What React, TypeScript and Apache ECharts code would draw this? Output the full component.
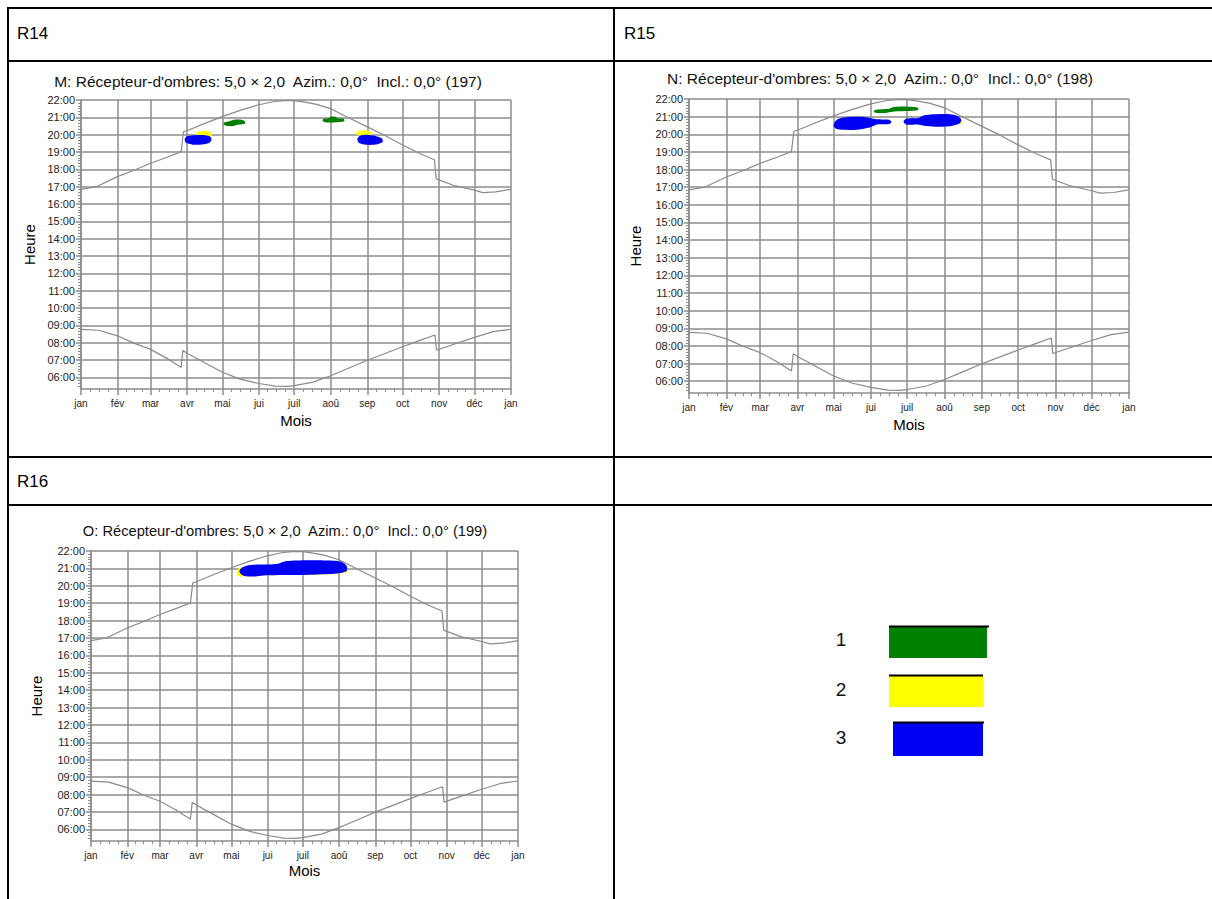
import React, { useEffect, useRef } from "react";
import * as echarts from "echarts";

// ---------- data ----------
const monthLabels = ["jan", "fév", "mar", "avr", "mai", "jui", "juil", "aoû", "sep", "oct", "nov", "déc", "jan"];
const monthStartDays = [0, 31, 59, 90, 120, 151, 181, 212, 243, 273, 304, 334, 365];
const hourTickValues = [6, 7, 8, 9, 10, 11, 12, 13, 14, 15, 16, 17, 18, 19, 20, 21, 22];

const chartTitles = [
  "M: Récepteur-d'ombres: 5,0 × 2,0  Azim.: 0,0°  Incl.: 0,0° (197)",
  "N: Récepteur-d'ombres: 5,0 × 2,0  Azim.: 0,0°  Incl.: 0,0° (198)",
  "O: Récepteur-d'ombres: 5,0 × 2,0  Azim.: 0,0°  Incl.: 0,0° (199)",
];
const cellLabels = ["R14", "R15", "R16"];
const legendLabels = ["1", "2", "3"];

// [day of year, hour]
const sunsetTimes = [
  [0, 16.85], [13, 17.0], [30, 17.55], [45, 17.95], [59, 18.35], [73, 18.7], [85, 19.02],
  [87, 20.17], [90, 20.23], [105, 20.65], [120, 21.04], [135, 21.4], [150, 21.71], [163, 21.9],
  [172, 21.96], [181, 21.96], [190, 21.88], [200, 21.75], [212, 21.5], [225, 21.05], [243, 20.45],
  [258, 19.95], [273, 19.4], [288, 18.9], [300, 18.55], [301.5, 17.45], [316, 17.08], [334, 16.8],
  [341, 16.66], [352, 16.7], [365, 16.85],
];
const sunriseTimes = [
  [0, 8.77], [15, 8.72], [31, 8.4], [45, 7.98], [59, 7.62], [73, 7.1], [85, 6.58], [86.5, 7.56],
  [90, 7.4], [105, 6.85], [120, 6.3], [135, 5.9], [151, 5.65], [165, 5.5], [175, 5.48], [181, 5.53],
  [197, 5.73], [212, 6.1], [226, 6.5], [243, 6.99], [258, 7.38], [273, 7.77], [287, 8.12],
  [300.5, 8.45], [301.8, 7.57], [316, 7.9], [334, 8.31], [350, 8.64], [365, 8.78],
];

const GREEN = "#007f00";
const YELLOW = "#ffff00";
const BLUE = "#0000f5";

// shadow areas (polygons of [day, hour]) per receptor
const shadowsM = [
  { color: YELLOW, pts: [[97, 20.0], [99, 20.15], [105, 20.22], [109, 20.17], [111.5, 20.02], [109, 19.85], [100, 19.85]] },
  { color: BLUE, pts: [[88, 19.72], [89.5, 19.9], [95, 19.97], [104, 19.98], [109.5, 19.9], [110.8, 19.7], [108, 19.5], [101, 19.42], [94, 19.44], [89, 19.55]] },
  { color: GREEN, pts: [[121, 20.62], [122, 20.72], [126, 20.78], [130, 20.86], [136, 20.86], [139, 20.78], [139.2, 20.63], [134, 20.58], [129, 20.5], [125, 20.5], [122, 20.55]] },
  { color: GREEN, pts: [[205, 20.8], [206, 20.92], [210, 20.95], [212, 21.04], [216, 21.03], [218, 20.95], [223, 20.92], [223.5, 20.78], [216, 20.72], [208, 20.7]] },
  { color: YELLOW, pts: [[233, 20.05], [235, 20.2], [241, 20.26], [246, 20.16], [247.5, 20.0], [240, 19.9]] },
  { color: BLUE, pts: [[234.5, 19.75], [236.5, 19.93], [243, 19.99], [250, 19.92], [255.5, 19.78], [256, 19.58], [250, 19.43], [242, 19.42], [236, 19.52]] },
];
const shadowsN = [
  { color: BLUE, pts: [[120, 20.45], [121, 20.7], [124, 20.88], [130, 20.97], [145, 20.98], [152, 20.9], [156, 20.85], [166, 20.82], [168, 20.7], [166, 20.58], [156, 20.55], [150, 20.38], [140, 20.26], [128, 20.25], [122, 20.32]] },
  { color: YELLOW, pts: [[223, 20.72], [226.5, 20.8], [226.5, 20.6], [223, 20.6]] },
  { color: BLUE, pts: [[178, 20.72], [180, 20.88], [190, 20.92], [194, 21.05], [200, 21.12], [210, 21.15], [218, 21.12], [224, 21.0], [226, 20.8], [224, 20.6], [216, 20.45], [204, 20.43], [195, 20.48], [190, 20.55], [180, 20.55]] },
  { color: GREEN, pts: [[153.5, 21.25], [154, 21.38], [160, 21.42], [166, 21.45], [170, 21.55], [178, 21.58], [186, 21.55], [190, 21.5], [190, 21.38], [182, 21.32], [172, 21.3], [164, 21.22], [157, 21.2]] },
];
const shadowsO = [
  { color: YELLOW, pts: [[124.5, 20.8], [126, 21.0], [140, 21.15], [200, 21.25], [216, 21.1], [220, 20.9], [218, 20.77], [200, 20.65], [140, 20.6], [126, 20.55]] },
  { color: BLUE, pts: [[127, 20.9], [130, 21.08], [136, 21.2], [150, 21.22], [160, 21.27], [167, 21.42], [185, 21.47], [205, 21.45], [214, 21.38], [218.5, 21.15], [218.5, 20.85], [210, 20.7], [190, 20.64], [170, 20.62], [150, 20.6], [140, 20.53], [131, 20.56], [127.5, 20.72]] },
];

const Y_MIN = 5 + 20 / 60;
const Y_MAX = 22;

// ---------- layout ----------
const grids = [
  { left: 81, top: 100, width: 430, height: 289, titleX: 268, titleY: 81, titleSize: 15.5, xNameGap: 24, yNameGap: 44 },
  { left: 689, top: 99, width: 440, height: 294, titleX: 880, titleY: 78, titleSize: 15.5, xNameGap: 24, yNameGap: 46 },
  { left: 91, top: 551, width: 427, height: 290, titleX: 285, titleY: 531, titleSize: 14.7, xNameGap: 22, yNameGap: 47 },
];
const shadowSets = [shadowsM, shadowsN, shadowsO];

const GRID_COLOR = "#8c8c8c";
const FONT = "'Liberation Sans', Arial, sans-serif";

function minorDayTicks() {
  const out: number[] = [];
  for (let i = 0; i < monthStartDays.length - 1; i++) {
    const s = monthStartDays[i];
    const len = monthStartDays[i + 1] - s;
    for (let k = 1; k < 4; k++) out.push(s + (k * len) / 4);
  }
  return out;
}
function minorHourTicks() {
  const out: number[] = [];
  for (let h = 5; h < 22; h++) {
    for (let k = 1; k < 6; k++) {
      const v = h + k / 6;
      if (v > Y_MIN + 0.01) out.push(v);
    }
  }
  return out;
}

function buildOption() {
  const minorX = minorDayTicks();
  const minorY = minorHourTicks();
  const xAxis: any[] = [];
  const yAxis: any[] = [];
  const series: any[] = [];
  const graphic: any[] = [];

  grids.forEach((g, gi) => {
    xAxis.push({
      type: "value", gridIndex: gi, min: 0, max: 365, position: "bottom",
      axisLine: { show: true, onZero: false, lineStyle: { color: GRID_COLOR, width: 1.5 } },
      axisTick: { show: true, customValues: monthStartDays, length: 6, lineStyle: { color: GRID_COLOR, width: 1.5 } },
      axisLabel: {
        show: true, customValues: monthStartDays, showMinLabel: true, showMaxLabel: true,
        formatter: (v: number) => monthLabels[monthStartDays.indexOf(Math.round(v))] ?? "",
        fontSize: 10, color: "#222", margin: 9, fontFamily: FONT,
      },
      splitLine: { show: true, lineStyle: { color: GRID_COLOR, width: 1.5 } },
      name: "Mois", nameLocation: "middle", nameGap: g.xNameGap,
      nameTextStyle: { fontSize: 15, color: "#000", fontFamily: FONT },
    });
    xAxis.push({
      type: "value", gridIndex: gi, min: 0, max: 365, position: "bottom",
      axisLine: { show: false, onZero: false },
      axisTick: { show: true, customValues: minorX, length: 3, lineStyle: { color: GRID_COLOR, width: 1 } },
      axisLabel: { show: false },
      splitLine: { show: false },
    });
    yAxis.push({
      type: "value", gridIndex: gi, min: Y_MIN, max: Y_MAX, position: "left",
      axisLine: { show: true, onZero: false, lineStyle: { color: GRID_COLOR, width: 1.5 } },
      axisTick: { show: true, customValues: hourTickValues, length: 5, lineStyle: { color: GRID_COLOR, width: 1.5 } },
      axisLabel: {
        show: true, customValues: hourTickValues, showMinLabel: true, showMaxLabel: true,
        formatter: (v: number) => (Math.round(v) < 10 ? "0" : "") + Math.round(v) + ":00",
        fontSize: 11, color: "#222", margin: 6, fontFamily: FONT,
      },
      splitLine: { show: true, lineStyle: { color: GRID_COLOR, width: 1.5 } },
      name: "Heure", nameLocation: "middle", nameGap: g.yNameGap,
      nameTextStyle: { fontSize: 15, color: "#000", fontFamily: FONT },
    });
    yAxis.push({
      type: "value", gridIndex: gi, min: Y_MIN, max: Y_MAX, position: "left",
      axisLine: { show: false, onZero: false },
      axisTick: { show: true, customValues: minorY, length: 3, lineStyle: { color: GRID_COLOR, width: 1 } },
      axisLabel: { show: false },
      splitLine: { show: false },
    });

    const shadows = shadowSets[gi];
    series.push({
      type: "custom", xAxisIndex: gi * 2, yAxisIndex: gi * 2, silent: true, z: 4, clip: true,
      data: shadows.map((s, i) => [s.pts[0][0], s.pts[0][1], i]),
      renderItem: (params: any, api: any) => {
        const s = shadows[params.dataIndex];
        return {
          type: "polygon",
          shape: { points: s.pts.map((p) => api.coord(p)), smooth: 0.25 },
          style: { fill: s.color, stroke: null },
        };
      },
    });
    [sunsetTimes, sunriseTimes].forEach((curve) => {
      series.push({
        type: "line", xAxisIndex: gi * 2, yAxisIndex: gi * 2, data: curve,
        showSymbol: false, symbol: "none", silent: true, z: 3,
        lineStyle: { color: "#8a8a8a", width: 1.2 },
      });
    });

    graphic.push({
      type: "text", x: g.titleX, y: g.titleY, silent: true,
      style: {
        text: chartTitles[gi], fontSize: g.titleSize, fontFamily: FONT, fill: "#111",
        align: "center", verticalAlign: "middle", textAlign: "center", textVerticalAlign: "middle",
      },
    });
  });

  // table borders
  const hLines = [8, 61, 457, 505];
  hLines.forEach((y) => graphic.push({ type: "line", shape: { x1: 7, y1: y, x2: 1212, y2: y }, style: { stroke: "#000", lineWidth: 2 }, silent: true }));
  [8, 614].forEach((x) => graphic.push({ type: "line", shape: { x1: x, y1: 7, x2: x, y2: 899 }, style: { stroke: "#000", lineWidth: 2 }, silent: true }));

  // cell labels
  const cellPos = [[17, 33], [624, 33], [17, 481]];
  cellLabels.forEach((t, i) => graphic.push({
    type: "text", x: cellPos[i][0], y: cellPos[i][1], silent: true,
    style: { text: t, fontSize: 17, fontFamily: FONT, fill: "#000", align: "left", verticalAlign: "middle", textAlign: "left", textVerticalAlign: "middle" },
  }));

  // legend
  const legendRects = [
    { color: GREEN, x: 889, y: 627, w: 98, h: 31, lx2: 989, ty: 639 },
    { color: YELLOW, x: 889, y: 676, w: 94, h: 31, lx2: 983, ty: 689 },
    { color: BLUE, x: 893, y: 723, w: 90, h: 33, lx2: 984, ty: 737 },
  ];
  legendRects.forEach((r, i) => {
    graphic.push({ type: "rect", shape: { x: r.x, y: r.y, width: r.w, height: r.h }, style: { fill: r.color }, silent: true });
    graphic.push({ type: "line", shape: { x1: r.x, y1: r.y - 0.5, x2: r.lx2, y2: r.y - 0.5 }, style: { stroke: "#000", lineWidth: 2 }, silent: true });
    graphic.push({
      type: "text", x: 841, y: r.ty, silent: true,
      style: { text: legendLabels[i], fontSize: 19, fontFamily: FONT, fill: "#111", align: "center", verticalAlign: "middle", textAlign: "center", textVerticalAlign: "middle" },
    });
  });

  return {
    animation: false,
    backgroundColor: "#fff",
    textStyle: { fontFamily: FONT },
    grid: grids.map((g) => ({ left: g.left, top: g.top, width: g.width, height: g.height, containLabel: false })),
    xAxis, yAxis, series, graphic,
  };
}

export default function App() {
  const ref = useRef<HTMLDivElement>(null);
  useEffect(() => {
    if (!ref.current) return;
    const chart = echarts.init(ref.current, undefined, { renderer: "svg" });
    chart.setOption(buildOption() as any);
    return () => chart.dispose();
  }, []);
  return <div ref={ref} style={{ position: "absolute", left: 0, top: 0, width: 1212, height: 899 }} />;
}
